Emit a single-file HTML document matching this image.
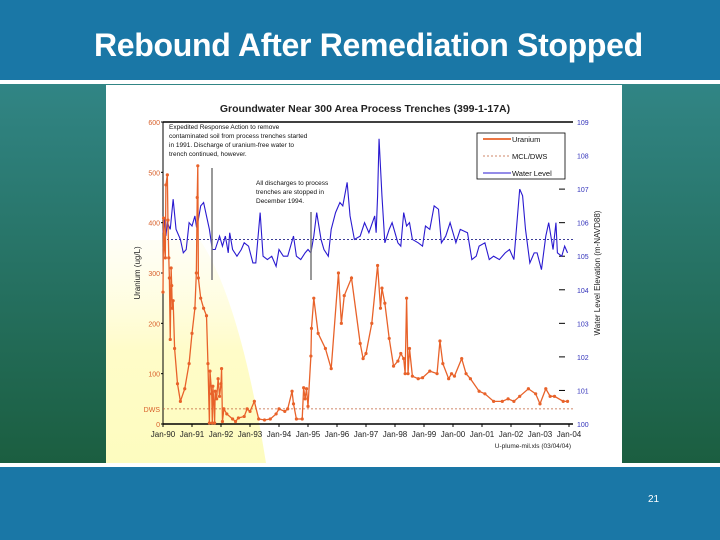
<!DOCTYPE html>
<html><head><meta charset="utf-8"><style>
body{margin:0;width:720px;height:540px;overflow:hidden;position:relative;font-family:"Liberation Sans",sans-serif;background:#1a77a6}
#hdr{position:absolute;left:0;top:0;width:720px;height:80px;background:#1a77a6}
#ttl{position:absolute;left:94px;top:27px;color:#fff;font-size:32px;font-weight:bold;letter-spacing:-0.3px;white-space:nowrap}
#l1{position:absolute;left:0;top:80px;width:720px;height:4px;background:#fff}
#mid{position:absolute;left:0;top:84px;width:720px;height:379px;background:linear-gradient(#318585,#1b5e40)}
#l2{position:absolute;left:0;top:463px;width:720px;height:4px;background:#fff}
#pg{position:absolute;left:648px;top:494px;color:#fff;font-size:10px}
svg{position:absolute;left:0;top:0}
</style></head><body>
<div id="hdr"></div>
<div id="ttl">Rebound After Remediation Stopped</div>
<div id="l1"></div>
<div id="mid"></div>
<div id="l2"></div>
<div id="pg">21</div>
<svg id="ch" width="720" height="540" font-family="Liberation Sans, sans-serif">
<defs><linearGradient id="yg" x1="0" y1="0" x2="0" y2="1"><stop offset="0" stop-color="#fffde0" stop-opacity="0.3"/><stop offset="0.5" stop-color="#fffcc8"/><stop offset="1" stop-color="#fdfcbf"/></linearGradient></defs>
<rect x="106" y="85" width="516" height="378" fill="#fff"/>
<path d="M106 240 L200 240 Q240 300 266 463 L106 463 Z" fill="url(#yg)"/>
<text x="365" y="112" text-anchor="middle" font-size="10.5" font-weight="bold" fill="#222">Groundwater Near 300 Area Process Trenches (399-1-17A)</text>
<g id="axes"></g>
<g id="marks"></g>
</svg>
<script>
const years=[1990,1991,1992,1993,1994,1995,1996,1997,1998,1999,2000,2001,2002,2003,2004];
const yearLabels=["Jan-90","Jan-91","Jan-92","Jan-93","Jan-94","Jan-95","Jan-96","Jan-97","Jan-98","Jan-99","Jan-00","Jan-01","Jan-02","Jan-03","Jan-04"];
const leftTicks=[0,100,200,300,400,500,600];
const rightTicks=[100,101,102,103,104,105,106,107,108,109];
const mcl=30;
const waterRef=105.5;
const uDates=[1990.0,1990.02,1990.05,1990.08,1990.1,1990.15,1990.17,1990.2,1990.22,1990.25,1990.28,1990.3,1990.32,1990.35,1990.4,1990.5,1990.6,1990.75,1990.9,1991.0,1991.1,1991.15,1991.18,1991.2,1991.22,1991.3,1991.4,1991.5,1991.55,1991.6,1991.62,1991.68,1991.7,1991.72,1991.75,1991.78,1991.8,1991.85,1991.9,1991.95,1992.0,1992.02,1992.05,1992.1,1992.2,1992.4,1992.5,1992.6,1992.8,1992.9,1993.0,1993.15,1993.3,1993.5,1993.7,1993.9,1994.0,1994.2,1994.3,1994.45,1994.5,1994.6,1994.8,1994.85,1994.9,1994.95,1995.0,1995.1,1995.12,1995.2,1995.35,1995.6,1995.8,1996.05,1996.15,1996.25,1996.5,1996.8,1996.9,1997.0,1997.2,1997.4,1997.5,1997.55,1997.65,1997.8,1997.95,1998.1,1998.2,1998.3,1998.35,1998.4,1998.45,1998.5,1998.6,1998.8,1998.95,1999.2,1999.45,1999.55,1999.65,1999.85,1999.95,2000.05,2000.3,2000.45,2000.6,2000.9,2001.1,2001.4,2001.7,2001.9,2002.1,2002.3,2002.6,2002.85,2003.0,2003.2,2003.35,2003.5,2003.8,2003.95];
const uVals=[262,409,350,330,475,495,405,330,290,168,310,275,230,245,150,80,45,70,120,180,230,300,450,513,290,250,230,215,120,2,105,60,2,75,45,2,65,50,90,55,80,110,5,30,20,10,5,12,15,30,25,45,10,8,10,20,30,25,30,65,40,10,10,72,50,70,35,135,190,250,180,150,110,300,200,255,290,160,130,140,200,315,230,270,240,170,115,125,140,130,100,250,100,150,95,90,92,105,100,165,120,90,100,95,130,100,90,65,60,45,45,50,45,55,70,60,40,70,55,55,45,45];
const wDates=[1990,1990.05,1990.1,1990.15,1990.25,1990.35,1990.45,1990.6,1990.7,1990.8,1990.9,1991.0,1991.1,1991.15,1991.2,1991.3,1991.4,1991.5,1991.6,1991.7,1991.8,1991.95,1992.05,1992.15,1992.25,1992.3,1992.4,1992.55,1992.7,1992.8,1992.95,1993.1,1993.2,1993.35,1993.45,1993.6,1993.75,1993.9,1994.0,1994.15,1994.3,1994.4,1994.5,1994.6,1994.75,1994.9,1995.0,1995.1,1995.2,1995.3,1995.45,1995.55,1995.7,1995.8,1995.95,1996.1,1996.2,1996.35,1996.45,1996.6,1996.8,1996.95,1997.1,1997.3,1997.35,1997.4,1997.45,1997.55,1997.65,1997.8,1997.9,1998.1,1998.2,1998.3,1998.4,1998.5,1998.6,1998.8,1998.95,1999.05,1999.2,1999.35,1999.5,1999.6,1999.75,1999.9,2000.0,2000.1,2000.25,2000.5,2000.65,2000.8,2000.9,2001.1,2001.25,2001.4,2001.6,2001.8,2001.95,2002.1,2002.3,2002.4,2002.5,2002.65,2002.8,2002.9,2003.05,2003.2,2003.3,2003.45,2003.55,2003.6,2003.75,2003.85,2003.95];
const wVals=[105.7,106.1,105.6,106.0,105.8,106.7,105.8,105.5,105.1,105.2,106.0,105.9,106.2,105.9,106.0,106.5,106.6,106.2,105.8,105.2,105.2,105.6,105.3,105.6,105.1,105.7,105.2,105.0,105.2,105.4,105.3,104.8,104.8,106.3,105.0,104.9,105.0,104.7,105.2,105.0,105.0,105.3,105.6,105.0,104.9,105.1,105.2,105.1,105.6,106.3,105.5,105.2,105.0,105.8,106.3,106.6,106.5,107.2,106.2,105.5,105.6,106.0,105.7,106.2,105.7,106.8,108.5,106.8,105.4,105.8,106.0,105.4,105.3,106.3,105.9,106.0,105.5,105.4,105.3,105.9,105.8,106.5,106.4,105.4,105.6,106.0,105.7,105.4,105.8,105.7,104.9,105.0,105.3,105.4,104.9,105.0,104.9,105.1,105.2,104.9,107.0,106.8,105.8,104.8,105.1,105.1,104.6,105.6,106.0,105.2,106.0,105.1,105.0,105.3,105.1];

const X0=163,X1=569,Y0=424,Y1=122;
const xs=d=>X0+(d-1990)/(2004-1990)*(X1-X0);
const yl=v=>Y0-v/600*(Y0-Y1);
const yr=v=>Y0-(v-100)/9*(Y0-Y1);
const NS="http://www.w3.org/2000/svg";
function mk(tag,attrs,parent,txt){const e=document.createElementNS(NS,tag);for(const k in attrs)e.setAttribute(k,attrs[k]);if(txt!==undefined)e.textContent=txt;parent.appendChild(e);return e;}
const ax=document.getElementById('axes'),mg=document.getElementById('marks');

let e=mk('line',{x1:X0,y1:Y1,x2:X1+4,y2:Y1,stroke:'#000','stroke-width':1.5},ax);

e=mk('line',{x1:X0,y1:Y0,x2:X1+4,y2:Y0,stroke:'#000','stroke-width':1.5},ax);

e=mk('line',{x1:X0,y1:Y1,x2:X0,y2:Y0,stroke:'#000','stroke-width':1},ax);


years.forEach((y,i)=>{
  const t=mk('line',{x1:xs(y),y1:Y0,x2:xs(y),y2:Y0+3,stroke:'#000'},ax);
  
  const l=mk('text',{x:xs(y),y:Y0+13,'text-anchor':'middle','font-size':8,fill:'#222'},ax,yearLabels[i]);
  
});
leftTicks.forEach(v=>{
  const l=mk('text',{x:X0-3,y:yl(v)+3,'text-anchor':'end','font-size':7,fill:'#d8602a'},ax,String(v));
  
  const t=mk('line',{x1:X0-2,y1:yl(v),x2:X0,y2:yl(v),stroke:'#000'},ax);
  
});
e=mk('text',{x:X0-3,y:yl(mcl)+3,'text-anchor':'end','font-size':7,fill:'#d8602a'},ax,'DWS');

rightTicks.forEach(v=>{
  const t=mk('line',{x1:X1-10,y1:yr(v),x2:X1-4,y2:yr(v),stroke:'#000'},ax);
  
  const l=mk('text',{x:X1+8,y:yr(v)+3,'font-size':7,fill:'#3333bb'},ax,String(v));
  
});
e=mk('text',{x:0,y:0,'font-size':8,fill:'#222',transform:`translate(140 ${(Y0+Y1)/2}) rotate(-90)`,'text-anchor':'middle'},ax,'Uranium (ug/L)');

e=mk('text',{x:0,y:0,'font-size':8,fill:'#222',transform:`translate(600 ${(Y0+Y1)/2}) rotate(-90)`,'text-anchor':'middle'},ax,'Water Level Elevation (m-NAVD88)');

e=mk('text',{x:X1+2,y:448,'font-size':6.5,fill:'#222','text-anchor':'end'},ax,'U-plume-mil.xls (03/04/04)');


e=mk('line',{x1:X0,y1:yl(mcl),x2:X1+4,y2:yl(mcl),stroke:'#c0603a','stroke-dasharray':'2,2','stroke-width':0.8},mg);

e=mk('line',{x1:X0,y1:yr(waterRef),x2:X1+4,y2:yr(waterRef),stroke:'#222288','stroke-dasharray':'2,2','stroke-width':0.8},mg);


e=mk('polyline',{points:wDates.map((d,i)=>xs(d)+','+yr(wVals[i])).join(' '),fill:'none',stroke:'#2a1ad0','stroke-width':1.1},mg);

e=mk('polyline',{points:uDates.map((d,i)=>xs(d)+','+yl(uVals[i])).join(' '),fill:'none',stroke:'#e8622a','stroke-width':1.3},mg);

uDates.forEach((d,i)=>{
  const c=mk('circle',{cx:xs(d),cy:yl(uVals[i]),r:1.6,fill:'#e8622a'},mg);
  
});

[[212,168,280],[311,212,280]].forEach(a=>{
  const l=mk('line',{x1:a[0],y1:a[1],x2:a[0],y2:a[2],stroke:'#777','stroke-width':1.5},mg);
  
});
const ann1=["Expedited Response Action to remove","contaminated soil from process trenches started","in 1991. Discharge of uranium-free water to","trench continued, however."];
ann1.forEach((s,i)=>{const t=mk('text',{x:169,y:129+i*9,'font-size':6.5,fill:'#111'},mg,s);
  });
const ann2=["All discharges to process","trenches are stopped in","December 1994."];
ann2.forEach((s,i)=>{const t=mk('text',{x:256,y:185+i*9,'font-size':6.5,fill:'#111'},mg,s);
  });

const lg=mk('g',{},mg);

mk('rect',{x:477,y:133,width:88,height:46,fill:'#fff',stroke:'#000','stroke-width':0.8},lg);
const lgItems=[["Uranium",'#e8622a',null,1.8],["MCL/DWS",'#c0603a','2,2',0.8],["Water Level",'#2a1ad0',null,1]];
lgItems.forEach((it,i)=>{const y=139+i*17;
  const l=mk('line',{x1:483,y1:y,x2:511,y2:y,stroke:it[1],'stroke-width':it[3]},lg);
  if(it[2])l.setAttribute('stroke-dasharray',it[2]);
  
  const t=mk('text',{x:512,y:y+3,'font-size':7.5,fill:'#111'},lg,it[0]);
  });
</script>
</body></html>
